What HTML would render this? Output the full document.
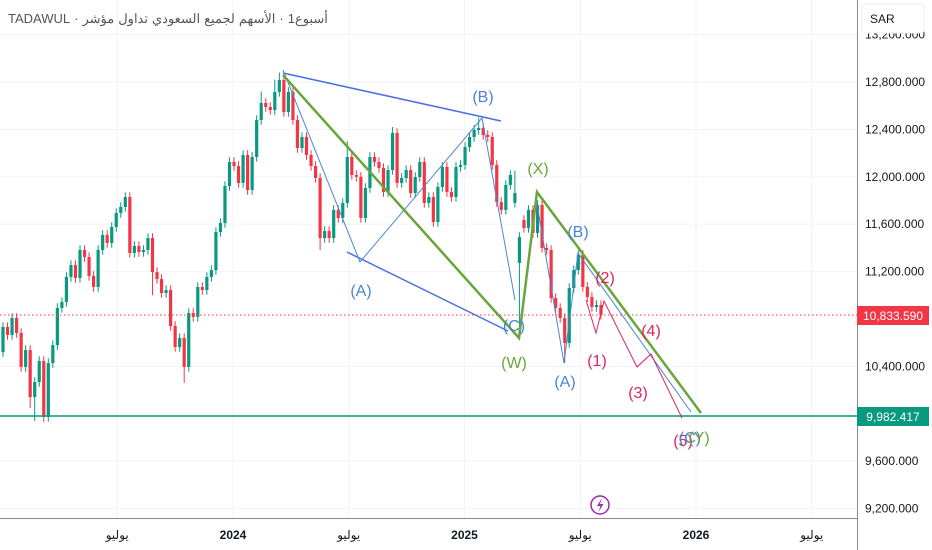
<!DOCTYPE html>
<html><head><meta charset="utf-8"><style>
html,body{margin:0;padding:0;background:#fff;}
svg{display:block;font-family:"Liberation Sans","Noto Sans CJK SC",sans-serif;}
#title{position:absolute;left:8px;top:11px;font-size:13px;color:#555;font-family:"Liberation Sans","Noto Sans CJK SC",sans-serif;direction:ltr;white-space:nowrap;display:flex;gap:4px;}
#title span{display:inline-block;}
</style></head><body>
<div id="title"><span>TADAWUL</span><span>·</span><span>مؤشر</span><span>تداول</span><span>السعودي</span><span>لجميع</span><span>الأسهم</span><span>·</span><span>1أسبوع</span></div>
<svg id="chart" width="932" height="550" viewBox="0 0 932 550" xmlns="http://www.w3.org/2000/svg">
<g id="grid"></g>
<g id="candles"></g>
<g id="drawings">
  <line x1="0" y1="416" x2="857" y2="416" stroke="#089981" stroke-width="1.5"/>
  <line x1="0" y1="315" x2="857" y2="315" stroke="#f23645" stroke-width="1" stroke-dasharray="1.5,2.5"/>
  <line x1="283" y1="73" x2="501" y2="121" stroke="#4a6fe3" stroke-width="1.5"/>
  <line x1="347" y1="252" x2="508" y2="331" stroke="#4a6fe3" stroke-width="1.5"/>
  <polyline points="283,70 360,262 482,118 515,300" fill="none" stroke="#4a86d0" stroke-width="1"/>
  <polyline points="536,198 564,363 578,253 691,412" fill="none" stroke="#4a86d0" stroke-width="1"/>
  <polyline points="283,75 519,338 537,192 701,413" fill="none" stroke="#6aa53a" stroke-width="2.5"/>
  <polyline points="586,300 596,333 604,301 637,367 651,354 682,418" fill="none" stroke="#e0245e" stroke-width="1"/>
  <g font-size="16" text-anchor="middle">
    <text x="483" y="102" fill="#4a86d0">(B)</text>
    <text x="361" y="296" fill="#4a86d0">(A)</text>
    <text x="514" y="331" fill="#4a86d0">(C)</text>
    <text x="514" y="368" fill="#6aa53a">(W)</text>
    <text x="538" y="174" fill="#6aa53a">(X)</text>
    <text x="578" y="237" fill="#4a86d0">(B)</text>
    <text x="565" y="387" fill="#4a86d0">(A)</text>
    <text x="597" y="366" fill="#e0245e">(1)</text>
    <text x="605" y="283" fill="#e0245e">(2)</text>
    <text x="638" y="398" fill="#e0245e">(3)</text>
    <text x="651" y="336" fill="#e0245e">(4)</text>
    <text x="683" y="446" fill="#e0245e">(5)</text>
    <text x="690" y="443" fill="#4a86d0">(C)</text>
    <text x="699" y="443" fill="#6aa53a">(Y)</text>
  </g>
  <g>
    <circle cx="600" cy="505" r="9" fill="#fff" stroke="#9c27b0" stroke-width="1.5"/>
    <path d="M602 498 L597 506 L600.5 506 L598.5 512 L603.5 504 L600 504 Z" fill="#9c27b0"/>
  </g>
</g>
<g id="yaxis">
  <rect x="857" y="0" width="75" height="518" fill="#fff"/>
  <line x1="857.5" y1="0" x2="857.5" y2="550" stroke="#888" stroke-width="1"/>
</g>
<g id="xaxis">
  <line x1="0" y1="518.5" x2="857" y2="518.5" stroke="#888" stroke-width="1"/>
</g>
<rect x="862" y="4" width="62" height="29" rx="3" fill="#fff" stroke="#eee"/>
<text x="870" y="23" font-size="12" fill="#131722">SAR</text>
<g>
  <rect x="857" y="306" width="72" height="19" fill="#f23645"/>
  <text x="893" y="320" font-size="12" fill="#fff" text-anchor="middle">10,833.590</text>
</g>
<g>
  <rect x="857" y="407" width="72" height="19" fill="#089981"/>
  <text x="893" y="421" font-size="12" fill="#fff" text-anchor="middle">9,982.417</text>
</g>
</svg>
<script>
const closes = [10732,10665,10808,10682,10395,10538,10141,10268,10445,9973,10428,10580,10893,10943,11154,11255,11146,11382,11323,11163,
11070,11382,11509,11441,11576,11694,11745,11829,11357,11416,11365,11382,11483,11196,11137,11019,11044,10741,10563,10639,
10395,10850,10817,11070,11044,11154,11213,11534,11610,11922,12125,12091,11948,12184,11888,12167,12479,12623,12589,12564,
12716,12817,12547,12716,12479,12243,12336,12184,12091,11990,11483,11542,11483,11720,11652,11779,12167,12015,12000,11652,
11905,12167,12125,12074,11872,12057,12370,11948,11990,12057,11863,11998,12125,11779,11829,11618,11914,12083,11872,11829,
12083,12100,12251,12336,12395,12412,12353,12336,12100,11787,11720,11931,12015,11863,11492,11568,11720,11526,11762,11399,
11382,10977,10893,10808,10597,11061,11213,11340,11070,10985,10901,10918,10834];
const firstOpen = 10520;
const openGaps = {113: 11780, 114: 11272, 115: 11635};
const lowSpikes = {7: 9940, 9: 9930, 6: 10050, 40: 10260, 114: 10640, 124: 10428, 70: 11380, 33: 11000};
const highSpikes = {61: 12880, 60: 12820, 86: 12420, 105: 12500, 113: 12050, 57: 12720, 76: 12300};
const priceTicks = [13200,12800,12400,12000,11600,11200,10400,9600,9200];
const priceTickLabels = ["13,200.000","12,800.000","12,400.000","12,000.000","11,600.000","11,200.000","10,400.000","9,600.000","9,200.000"];
const timeTicks = [23.5,24,24.5,25,25.5,26,26.5];
const timeTickLabels = ["يوليو","2024","يوليو","2025","يوليو","2026","يوليو"];

const NS = "http://www.w3.org/2000/svg";
function yScale(v){ return 82 + (12800 - v) * 0.11848; }
function xScale(i){ return 3 + i * 4.53; }
function tScale(t){ return 233 + (t - 24) * 231.5; }
function mk(tag, attrs, parent){ const e = document.createElementNS(NS, tag); for (const k in attrs) e.setAttribute(k, attrs[k]); parent.appendChild(e); return e; }

const grid = document.getElementById('grid');
priceTicks.forEach(function(v){
  const gl = mk('line', {x1:0, x2:857, y1:yScale(v), y2:yScale(v), stroke:'#f0f3fa', 'stroke-width':1}, grid);
  
  
});
timeTicks.forEach(function(t){
  const gl = mk('line', {x1:tScale(t), x2:tScale(t), y1:0, y2:518, stroke:'#f0f3fa', 'stroke-width':1}, grid);
  
  
});

const cg = document.getElementById('candles');
closes.forEach(function(c, i){
  let o = (i in openGaps) ? openGaps[i] : (i === 0 ? firstOpen : closes[i-1]);
  const up = c >= o;
  const col = up ? '#089981' : '#f23645';
  const top = Math.max(o, c), bot = Math.min(o, c);
  const hi = (i in highSpikes) ? highSpikes[i] : top + 40;
  const lo = (i in lowSpikes) ? lowSpikes[i] : bot - 40;
  const x = xScale(i);
  const g = mk('g', {}, cg);
  
  
  mk('line', {x1:x, x2:x, y1:yScale(hi), y2:yScale(lo), stroke:col, 'stroke-width':1}, g);
  const h = Math.max(1, yScale(bot) - yScale(top));
  mk('rect', {x:x-1.6, y:yScale(top), width:3.2, height:h, fill:col}, g);
});

const ya = document.getElementById('yaxis');
priceTicks.forEach(function(v, k){
  const t = mk('text', {x:865, y:yScale(v)+4, 'font-size':12, fill:'#131722'}, ya);
  t.textContent = priceTickLabels[k];
  
  
});
const xa = document.getElementById('xaxis');
timeTicks.forEach(function(tv, k){
  const t = mk('text', {x:tScale(tv), y:539, 'font-size':12, fill:'#131722', 'text-anchor':'middle', 'font-weight': (k%2===1?'bold':'normal')}, xa);
  t.textContent = timeTickLabels[k];
  
  
});
</script>
</body></html>
